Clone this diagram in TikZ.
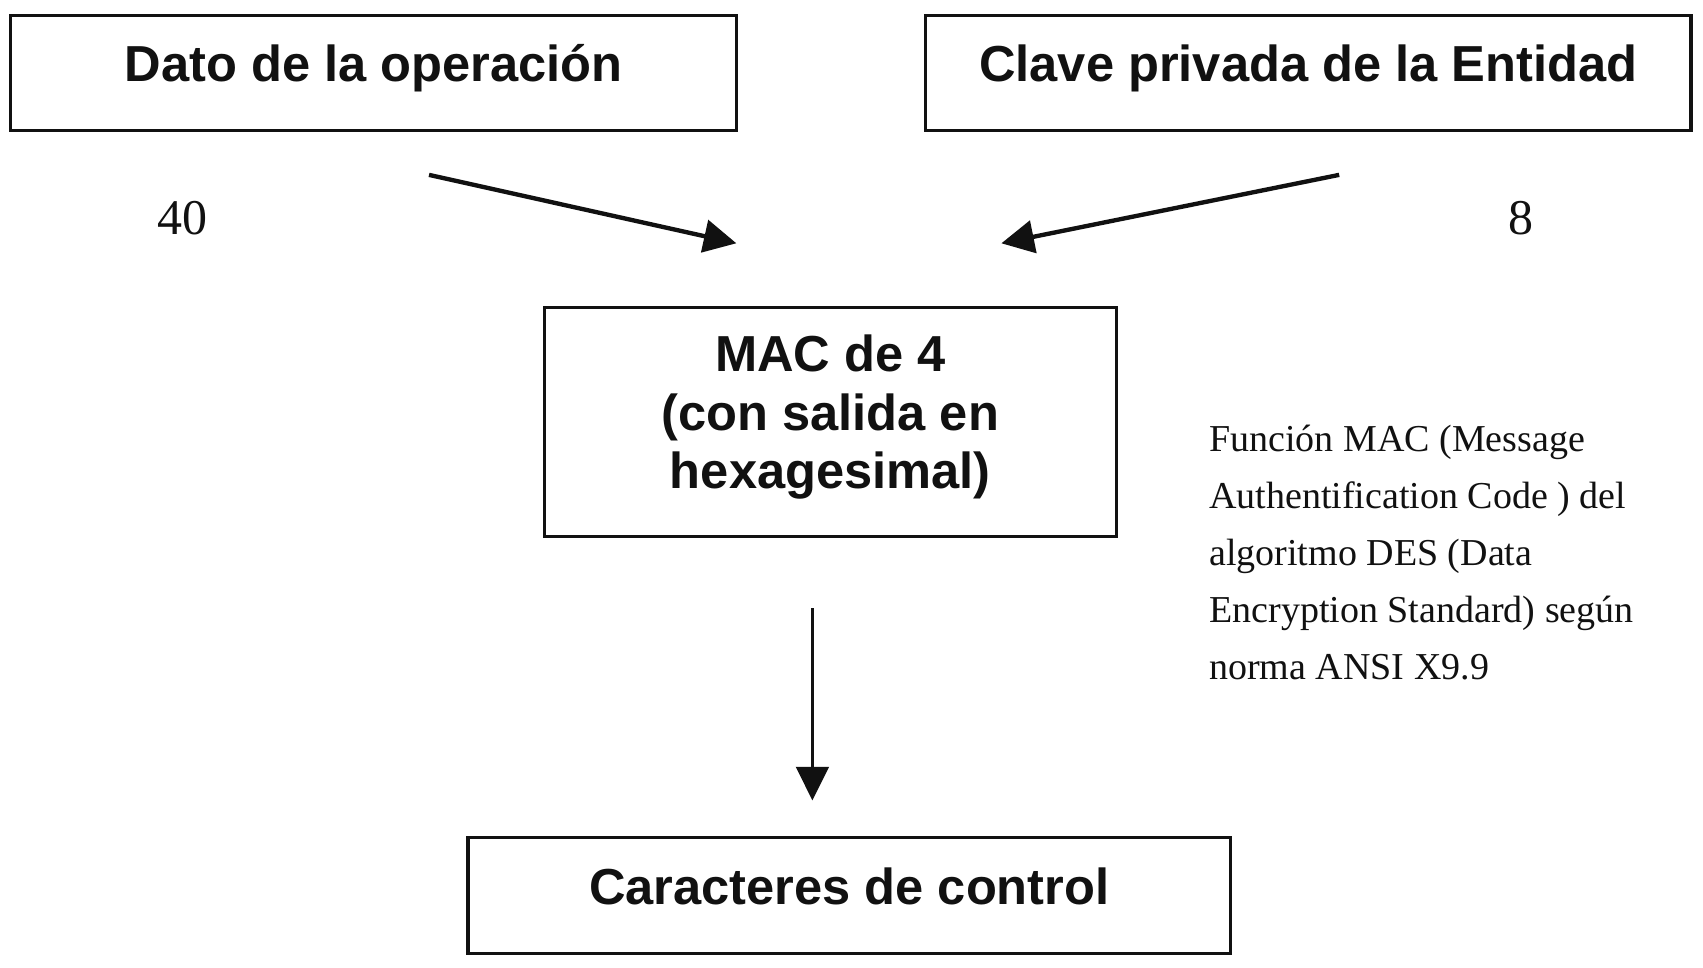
\documentclass[tikz,border=0pt]{standalone}
\usepackage{fontspec}
\setmainfont{Liberation Serif}
\setsansfont{Liberation Sans}
\usetikzlibrary{arrows.meta}
\definecolor{ink}{HTML}{111111}
\begin{document}
\begin{tikzpicture}[x=0.5pt,y=-0.5pt,
  box/.style={draw=ink, text=ink, line width=1.5pt, inner sep=0pt,
    font=\sffamily\bfseries\fontsize{23.3}{27}\selectfont, align=center,
    text height=20pt, text depth=12pt},
  macbox/.style={draw=ink, line width=1.5pt, inner sep=0pt},
  mactext/.style={text=ink, inner sep=0pt,
    font=\sffamily\bfseries\fontsize{23.3}{26.8}\selectfont, align=center},
  arr/.style={draw=ink, line width=2pt, -{Triangle[length=15pt,width=15pt]}},
  arrthin/.style={draw=ink, line width=1.5pt, -{Triangle[length=15.5pt,width=15pt]}},
  num/.style={text=ink, inner sep=0pt, font=\fontsize{23}{27}\selectfont},
  note/.style={text=ink, inner sep=0pt, anchor=north west, align=left,
    font=\fontsize{17.5}{26.25}\selectfont}]
\useasboundingbox (0,0) rectangle (1568,890.4);
\fill[white] (0,0) rectangle (1568,890.4);

\node[box, minimum width=334pt, minimum height=53pt] (dato) at (344,67) {Dato de la operación};
\node[box, minimum width=352.5pt, minimum height=53pt] (clave) at (1204.5,67) {Clave privada de la Entidad};
\node[macbox, minimum width=263.5pt, minimum height=105.5pt] (mac) at (764.5,388.5) {};
\node[mactext] (mactxt) at (764.5,384) {MAC de 4\\(con salida en\\hexagesimal)};
\node[box, minimum width=351pt, minimum height=53.5pt] (car) at (782,824.5) {Caracteres de control};

\node[num] (n40) at (168,201) {40};
\node[num] (n8) at (1400,201) {8};

\node[note] (desc) at (1113,391) {Función MAC (Message\\Authentification Code ) del\\algoritmo DES (Data\\Encryption Standard) según\\norma ANSI X9.9};

\coordinate (a1s) at (395,161);
\coordinate (a1e) at (678,224);
\coordinate (a2s) at (1233,161);
\coordinate (a2e) at (922,224);
\coordinate (a3s) at (748,560);
\coordinate (a3e) at (748,737);

\draw[arr] (a1s) -- (a1e);
\draw[arr] (a2s) -- (a2e);
\draw[arrthin] (a3s) -- (a3e);
\end{tikzpicture}
\end{document}
